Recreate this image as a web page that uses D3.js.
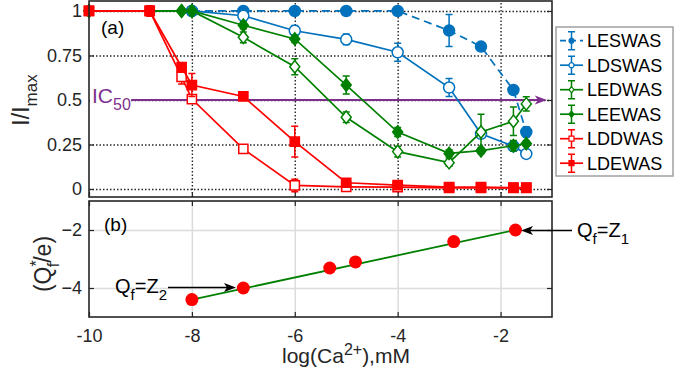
<!DOCTYPE html>
<meta charset="utf-8">
<style>
body { margin: 0; background: #fff; }
svg { font-family: "Liberation Sans", Arial, sans-serif; }
.frame { fill: none; stroke: #262626; stroke-width: 1.6; }
.grid-a line { stroke: #262626; stroke-width: 1.4; stroke-dasharray: 1.5,2; }
.grid-b line { stroke: #dcdcdc; stroke-width: 1.5; }
.axis line { stroke: #262626; stroke-width: 1.2; }
.axis text { font-size: 18px; fill: #262626; }
.lbl { font-size: 23px; fill: #262626; }
.leg text { font-size: 18px; fill: #000; }
</style>
<svg width="698" height="374"></svg>
<script src="https://cdn.jsdelivr.net/npm/d3@7"></script>
<script>

// ---- data ----
var xTicks = [-10, -8, -6, -4, -2];
var xTickLabels = ["-10", "-8", "-6", "-4", "-2"];
var yTicksA = [0, 0.25, 0.5, 0.75, 1];
var yTickLabelsA = ["0", "0.25", "0.5", "0.75", "1"];
var yTicksB = [-4, -2];

var xS = [-8, -7, -6, -5, -4, -3, -2.38, -1.75, -1.5];
var lesY = [1, 1, 1, 1, 1, 0.89, 0.80, 0.556, 0.32];
var lesE = [0, 0, 0.01, 0.01, 0.01, 0.09, 0.02, 0, 0.03];
var ldsY = [1, 0.973, 0.889, 0.84, 0.768, 0.57, 0.31, 0.24, 0.197];
var ldsE = [0, 0.01, 0.03, 0.03, 0.05, 0.05, 0.02, 0.02, 0.02];

var xE = [-10, -8.2, -8, -7, -6, -5, -4, -3, -2.38, -1.75, -1.5];
var ledY = [1, 1, 1, 0.852, 0.687, 0.403, 0.21, 0.148, 0.32, 0.38, 0.478];
var ledE = [0, 0, 0, 0.03, 0.045, 0.03, 0.03, 0.02, 0.1, 0.08, 0.04];
var leeY = [1, 1, 1, 0.92, 0.843, 0.584, 0.32, 0.20, 0.215, 0.243, 0.255];
var leeE = [0, 0, 0, 0.02, 0.02, 0.05, 0.025, 0.02, 0.015, 0.03, 0.015];

var xD = [-10, -8.82, -8.2, -8, -7, -6, -5, -4, -3, -2.38, -1.75, -1.5];
var lddY = [1, 1, 0.63, 0.505, 0.225, 0.02, 0.012, 0.01, 0.006, 0.006, 0.006, 0.006];
var lddE = [0, 0.02, 0.04, 0.02, 0.01, 0.035, 0.01, 0.01, 0, 0, 0, 0];
var ldeY = [1, 1, 0.685, 0.584, 0.52, 0.266, 0.035, 0.022, 0.01, 0.01, 0.008, 0.008];
var ldeE = [0, 0.03, 0.02, 0.065, 0.02, 0.087, 0.02, 0.015, 0, 0, 0, 0];

var icX = [-9.18, -1.1], icY = 0.5;

var qX = [-8, -7, -5.32, -4.82, -2.91, -1.71];
var qY = [-4.4, -4.0, -3.31, -3.1, -2.4, -2.0];
var fitX = [-8, -1.71], fitY = [-4.4, -2.0];

var series = [
  {name: "LESWAS", x: xS, y: lesY, e: lesE, color: "#0072BD", marker: "circle", fill: true, dash: "8,5"},
  {name: "LDSWAS", x: xS, y: ldsY, e: ldsE, color: "#0072BD", marker: "circle", fill: false},
  {name: "LEDWAS", x: xE, y: ledY, e: ledE, color: "#008000", marker: "diamond", fill: false},
  {name: "LEEWAS", x: xE, y: leeY, e: leeE, color: "#008000", marker: "diamond", fill: true},
  {name: "LDDWAS", x: xD, y: lddY, e: lddE, color: "#FF0000", marker: "square", fill: false},
  {name: "LDEWAS", x: xD, y: ldeY, e: ldeE, color: "#FF0000", marker: "square", fill: true}
];

// ---- layout ----
var svg = d3.select("svg");
var L = 89, R = 552, aT = 1, aB = 197, bT = 201, bB = 317;

var x = d3.scaleLinear().domain([-10, -1]).range([L, R]);
var yA = d3.scaleLinear().domain([-0.045, 1.056]).range([aB, aT]);
var yB = d3.scaleLinear().domain([-5, -1]).range([bB, bT]);

function markerPath(type, s) {
  if (type === "diamond") return "M0," + (-1.25 * s) + "L" + s + ",0L0," + (1.25 * s) + "L" + (-s) + ",0Z";
  if (type === "square") return "M" + (-s) + "," + (-s) + "h" + (2 * s) + "v" + (2 * s) + "h" + (-2 * s) + "Z";
  return "M" + s + ",0A" + s + "," + s + " 0 1,1 " + (-s) + ",0A" + s + "," + s + " 0 1,1 " + s + ",0Z";
}
var msize = {circle: 5.5, diamond: 5, square: 4.6};

function arrowHead(g, tx, ty, dir, color) {
  var l = 12, w = 4.5, n = 9;
  g.append("path")
      .attr("d", "M" + tx + "," + ty + "L" + (tx - dir * l) + "," + (ty - w) +
                 "L" + (tx - dir * n) + "," + ty + "L" + (tx - dir * l) + "," + (ty + w) + "Z")
      .attr("fill", color);
}

// ---- panel (a) ----
var ga = svg.append("g");

ga.append("g").attr("class", "grid-a")
    .attr("transform", "translate(0," + aB + ")")
    .call(d3.axisBottom(x).tickValues(xTicks.slice(1)).tickSize(-(aB - aT)).tickFormat(""))
    .call(function(g) { g.select(".domain").remove(); });
ga.append("g").attr("class", "grid-a")
    .attr("transform", "translate(" + L + ",0)")
    .call(d3.axisLeft(yA).tickValues(yTicksA).tickSize(-(R - L)).tickFormat(""))
    .call(function(g) { g.select(".domain").remove(); });

ga.append("g").attr("class", "axis")
    .attr("transform", "translate(" + L + ",0)")
    .call(d3.axisLeft(yA).tickValues(yTicksA).tickSize(-5).tickPadding(7)
      .tickFormat(function(d, i) { return yTickLabelsA[i]; }))
    .call(function(g) { g.select(".domain").remove(); });
ga.append("g").attr("class", "axis")
    .attr("transform", "translate(" + R + ",0)")
    .call(d3.axisRight(yA).tickValues(yTicksA).tickSize(-5).tickFormat(""))
    .call(function(g) { g.select(".domain").remove(); });
ga.append("g").attr("class", "axis")
    .attr("transform", "translate(0," + aB + ")")
    .call(d3.axisBottom(x).tickValues(xTicks).tickSize(-5).tickFormat(""))
    .call(function(g) { g.select(".domain").remove(); });

// IC50 line
ga.append("rect").attr("x", L + 1).attr("y", yA(icY) - 3).attr("width", x(icX[0]) - L - 1).attr("height", 6)
    .attr("fill", "#fff");
ga.append("line")
    .attr("x1", x(icX[0])).attr("x2", x(icX[1]) - 8)
    .attr("y1", yA(icY)).attr("y2", yA(icY))
    .attr("stroke", "#7E2F8E").attr("stroke-width", 1.8);
arrowHead(ga, x(icX[1]), yA(icY), 1, "#7E2F8E");
ga.append("text").attr("x", 92).attr("y", yA(icY) + 3.5)
    .attr("fill", "#7E2F8E").style("font-size", "21px")
    .text("IC")
  .append("tspan").attr("dy", 7).style("font-size", "16px").text("50");

series.forEach(function(s) {
  var pts = s.x.map(function(v, i) { return {x: v, y: s.y[i], e: s.e[i]}; });
  var g = ga.append("g");
  g.append("path")
      .datum(pts)
      .attr("fill", "none")
      .attr("stroke", s.color)
      .attr("stroke-width", 1.7)
      .attr("stroke-dasharray", s.dash || null)
      .attr("d", d3.line().x(function(d) { return x(d.x); }).y(function(d) { return yA(d.y); }));
  var eb = g.selectAll(".eb").data(pts.filter(function(d) { return d.e > 0; })).enter().append("g");
  eb.append("path")
      .attr("fill", "none").attr("stroke", s.color).attr("stroke-width", 1.5)
      .attr("d", function(d) {
        var cx = x(d.x), y0 = yA(d.y - d.e), y1 = yA(d.y + d.e);
        return "M" + cx + "," + y0 + "V" + y1 + "M" + (cx - 3.5) + "," + y0 + "h7M" + (cx - 3.5) + "," + y1 + "h7";
      });
  g.selectAll(".mk").data(pts).enter().append("path")
      .attr("transform", function(d) { return "translate(" + x(d.x) + "," + yA(d.y) + ")"; })
      .attr("d", markerPath(s.marker, msize[s.marker]))
      .attr("fill", s.fill ? s.color : "#fff")
      .attr("stroke", s.color).attr("stroke-width", 1.5);
});

ga.append("rect").attr("class", "frame")
    .attr("x", L).attr("y", aT).attr("width", R - L).attr("height", aB - aT);

ga.append("text").attr("x", 101).attr("y", 34).style("font-size", "19px").text("(a)");

ga.append("text").attr("class", "lbl")
    .attr("transform", "translate(29,100) rotate(-90)")
    .attr("text-anchor", "middle")
    .text("I/I")
  .append("tspan").attr("dy", 8).style("font-size", "17px").text("max");

// legend
var leg = svg.append("g").attr("class", "leg");
leg.append("rect").attr("x", 556).attr("y", 27).attr("width", 117).attr("height", 149)
    .attr("fill", "#fff").attr("stroke", "#a0a0a0").attr("stroke-width", 1.5);
series.forEach(function(s, i) {
  var cy = 40.7 + i * 24.5, cx = 571.5;
  var g = leg.append("g");
  g.append("line").attr("x1", 560).attr("x2", 583).attr("y1", cy).attr("y2", cy)
      .attr("stroke", s.color).attr("stroke-width", 1.7)
      .attr("stroke-dasharray", s.dash ? "6,4" : null);
  g.append("path").attr("fill", "none").attr("stroke", s.color).attr("stroke-width", 1.5)
      .attr("d", "M" + cx + "," + (cy - 9) + "V" + (cy + 9) + "M" + (cx - 3.5) + "," + (cy - 9) + "h7M" + (cx - 3.5) + "," + (cy + 9) + "h7");
  g.append("path").attr("transform", "translate(" + cx + "," + cy + ")")
      .attr("d", markerPath(s.marker, 2.5))
      .attr("fill", s.fill ? s.color : "#fff").attr("stroke", s.color).attr("stroke-width", 1.2);
  g.append("text").attr("x", 587).attr("y", cy + 6.5).text(s.name);
});

// ---- panel (b) ----
var gb = svg.append("g");

gb.append("g").attr("class", "grid-b")
    .attr("transform", "translate(0," + bB + ")")
    .call(d3.axisBottom(x).tickValues(xTicks.slice(1)).tickSize(-(bB - bT)).tickFormat(""))
    .call(function(g) { g.select(".domain").remove(); });
gb.append("g").attr("class", "grid-b")
    .attr("transform", "translate(" + L + ",0)")
    .call(d3.axisLeft(yB).tickValues(yTicksB).tickSize(-(R - L)).tickFormat(""))
    .call(function(g) { g.select(".domain").remove(); });

gb.append("g").attr("class", "axis")
    .attr("transform", "translate(" + L + ",0)")
    .call(d3.axisLeft(yB).tickValues(yTicksB).tickSize(-5).tickPadding(7).tickFormat(d3.format("d")))
    .call(function(g) { g.select(".domain").remove(); });
gb.append("g").attr("class", "axis")
    .attr("transform", "translate(" + R + ",0)")
    .call(d3.axisRight(yB).tickValues(yTicksB).tickSize(-5).tickFormat(""))
    .call(function(g) { g.select(".domain").remove(); });
gb.append("g").attr("class", "axis")
    .attr("transform", "translate(0," + bB + ")")
    .call(d3.axisBottom(x).tickValues(xTicks).tickSize(-5).tickPadding(12)
      .tickFormat(function(d, i) { return xTickLabels[i]; }))
    .call(function(g) { g.select(".domain").remove(); });
gb.append("g").attr("class", "axis")
    .attr("transform", "translate(0," + bT + ")")
    .call(d3.axisTop(x).tickValues(xTicks).tickSize(-5).tickFormat(""))
    .call(function(g) { g.select(".domain").remove(); });

gb.append("path")
    .datum(fitX.map(function(v, i) { return [v, fitY[i]]; }))
    .attr("fill", "none").attr("stroke", "#008000").attr("stroke-width", 1.8)
    .attr("d", d3.line().x(function(d) { return x(d[0]); }).y(function(d) { return yB(d[1]); }));

gb.selectAll(".q").data(qX.map(function(v, i) { return [v, qY[i]]; })).enter().append("circle")
    .attr("cx", function(d) { return x(d[0]); })
    .attr("cy", function(d) { return yB(d[1]); })
    .attr("r", 6.5).attr("fill", "#FF0000");

gb.append("rect").attr("class", "frame")
    .attr("x", L).attr("y", bT).attr("width", R - L).attr("height", bB - bT);

gb.append("text").attr("x", 104).attr("y", 231).style("font-size", "19px").text("(b)");

// annotations
var a2y = yB(-4.0) - 0.5, a1y = yB(-2.0) + 0.5;
gb.append("line").attr("x1", 168).attr("x2", 228).attr("y1", a2y).attr("y2", a2y)
    .attr("stroke", "#000").attr("stroke-width", 1.5);
arrowHead(gb, 236, a2y, 1, "#000");
var t2 = gb.append("text").attr("x", 115).attr("y", 293).style("font-size", "20px");
t2.append("tspan").text("Q");
t2.append("tspan").attr("dy", 7).style("font-size", "15px").text("f");
t2.append("tspan").attr("dy", -7).text("=Z");
t2.append("tspan").attr("dy", 7).style("font-size", "15px").text("2");

gb.append("line").attr("x1", 572).attr("x2", 528).attr("y1", a1y).attr("y2", a1y)
    .attr("stroke", "#000").attr("stroke-width", 1.5);
arrowHead(gb, 521, a1y, -1, "#000");
var t1 = gb.append("text").attr("x", 577).attr("y", 237).style("font-size", "20px");
t1.append("tspan").text("Q");
t1.append("tspan").attr("dy", 7).style("font-size", "15px").text("f");
t1.append("tspan").attr("dy", -7).text("=Z");
t1.append("tspan").attr("dy", 7).style("font-size", "15px").text("1");

// axis labels
var yl = gb.append("text").attr("class", "lbl")
    .attr("transform", "translate(51,264) rotate(-90)")
    .attr("text-anchor", "middle");
yl.append("tspan").text("(Q");
yl.append("tspan").attr("dy", -9).style("font-size", "16px").text("*");
yl.append("tspan").attr("dy", 17).attr("dx", -7).style("font-size", "16px").text("f");
yl.append("tspan").attr("dy", -8).text("/e)");

var xl = svg.append("text").attr("class", "lbl").attr("x", 282).attr("y", 363).style("font-size", "21px");
xl.append("tspan").text("log(Ca");
xl.append("tspan").attr("dy", -8).style("font-size", "16px").text("2+");
xl.append("tspan").attr("dy", 8).text("),mM");

</script>
